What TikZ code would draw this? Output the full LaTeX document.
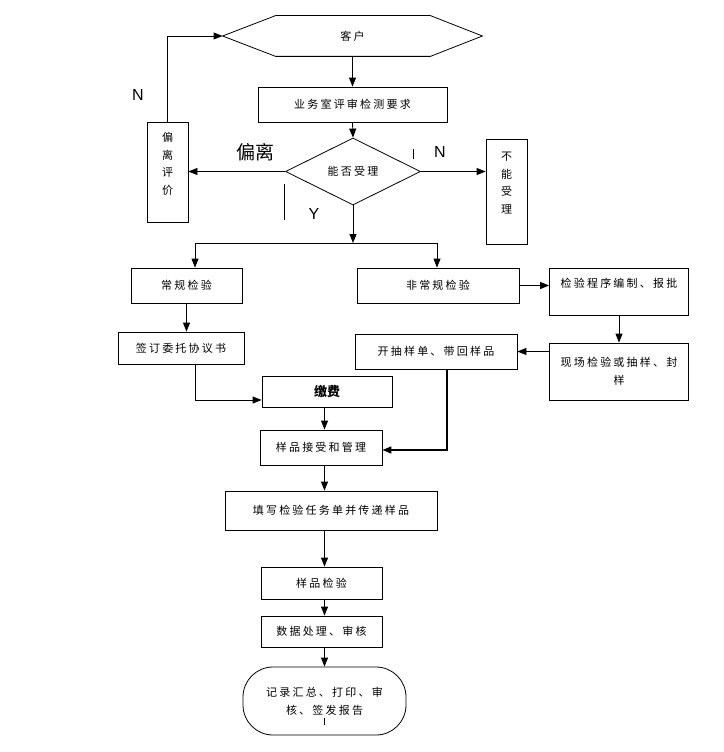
\documentclass[tikz,border=0pt]{standalone}
\usepackage{fontspec}
\setmainfont{Liberation Sans}
\newfontfamily\cjk[LetterSpace=20]{Noto Sans CJK SC}
\newfontfamily\cjkplain{Noto Sans CJK SC}
\usetikzlibrary{shapes.geometric,arrows.meta,calc}
\begin{document}
\begin{tikzpicture}[x=1pt,y=-1pt,
  box/.style={draw, line width=0.8pt, inner sep=0pt, align=center,
    font=\cjk\fontsize{11}{18}\selectfont},
  vbox/.style={box, font=\cjk\fontsize{11}{17.5}\selectfont},
  arr/.style={draw, line width=0.8pt, -{Triangle[length=9pt,width=7pt]}},
  ln/.style={draw, line width=0.8pt},
  lbl/.style={font=\fontsize{16}{16}\selectfont, inner sep=0pt}]
\useasboundingbox (0,0) rectangle (723,752);
\fill[white] (0,0) rectangle (723,752);

% nodes
\node[box, draw=none, minimum width=259pt, minimum height=40pt] (cust) at (352.5,36) {客户};
\draw[ln] (cust.west) -- ($(cust.north west)+(53,0)$) -- ($(cust.north east)+(-52,0)$)
  -- (cust.east) -- ($(cust.south east)+(-52,0)$) -- ($(cust.south west)+(53,0)$) -- cycle;
\node[box, minimum width=189pt, minimum height=35pt] (req) at (352.5,104.5) {业务室评审检测要求};
\node[box, diamond, aspect=2, minimum width=135pt, minimum height=67pt] (dia) at (353,171.5) {能否受理};
\node[vbox, minimum width=41pt, minimum height=100pt] (dev) at (167.5,172) {偏\\离\\评\\价\\~};
\node[vbox, minimum width=41pt, minimum height=105pt] (rej) at (506.5,191.5) {不\\能\\受\\理\\~};
\node[box, minimum width=111pt, minimum height=35pt] (reg) at (186.5,285.5) {常规检验};
\node[box, minimum width=162pt, minimum height=35pt] (nonreg) at (438,285.5) {非常规检验};
\node[box, minimum width=139pt, minimum height=47pt] (prog) at (619,291.5) {检验程序编制、报批\\~};
\node[box, minimum width=126pt, minimum height=32pt] (sign) at (181,348) {签订委托协议书};
\node[box, minimum width=130pt, minimum height=31pt, font=\cjkplain\bfseries\fontsize{13}{16}\selectfont] (pay) at (327,391.5) {缴费};
\node[box, minimum width=162pt, minimum height=35pt] (samp) at (436,351.5) {开抽样单、带回样品};
\node[box, minimum width=139pt, minimum height=57pt] (site) at (619,371.5) {现场检验或抽样、封\\样};
\node[box, minimum width=122pt, minimum height=35pt] (recv) at (321,447.5) {样品接受和管理};
\node[box, minimum width=212pt, minimum height=39pt] (task) at (331,510.5) {填写检验任务单并传递样品};
\node[box, minimum width=121pt, minimum height=32pt] (test) at (321.5,583) {样品检验};
\node[box, minimum width=121pt, minimum height=31pt] (data) at (321.5,631.5) {数据处理、审核};
\node[box, rounded corners=30pt, minimum width=163pt, minimum height=68pt] (rep) at (324.5,701) {记录汇总、打印、审\\核、签发报告};

% labels
\node[lbl] (n1) at (138,95) {N};
\node[lbl] (n2) at (440,152) {N};
\node[lbl] (y1) at (314,214) {Y};
\node[inner sep=0pt, font=\cjkplain\fontsize{19}{19}\selectfont] (devlbl) at (255,152) {偏离};

% connectors
\draw[arr] (cust.south) -- (req.north);
\draw[arr] (req.south) -- (dia.north);
\draw[arr] (dia.west) -- (dia.west -| dev.east);
\draw[arr] (dia.east) -- (dia.east -| rej.west);
\draw[arr] (dev.north) -- (dev.north |- cust.west) -- (cust.west);
\coordinate (split) at (353,243);
\coordinate (sl) at (195,243);
\coordinate (sr) at (437,243);
\draw[arr] (dia.south) -- (split);
\draw[ln] (sl) -- (sr);
\draw[arr] (sl) -- (sl |- reg.north);
\draw[arr] (sr) -- (sr |- nonreg.north);
\draw[arr] (nonreg.east) -- (nonreg.east -| prog.west);
\draw[arr] (reg.south) -- (reg.south |- sign.north);
\coordinate (sb) at (195,400);
\draw[arr] (sign.south -| sb) -- (sb) -- (sb -| pay.west);
\draw[arr] (prog.south) -- (prog.south |- site.north);
\draw[arr] (site.west |- samp.east) -- (samp.east);
\coordinate (sc) at (447,450);
\draw[arr, line width=1.5pt] (samp.south -| sc) -- (sc) -- (sc -| recv.east);
\coordinate (cx) at (324.5,0);
\draw[arr] (pay.south -| cx) -- (recv.north -| cx);
\draw[arr] (recv.south -| cx) -- (task.north -| cx);
\draw[arr] (task.south -| cx) -- (test.north -| cx);
\draw[arr] (test.south -| cx) -- (data.north -| cx);
\draw[arr] (data.south -| cx) -- (rep.north -| cx);

% stray marks
\draw[line width=0.7pt] (413,149) -- (413,159);
\draw[line width=0.7pt] (284,184) -- (284,220);
\draw[line width=0.7pt] (324,718) -- (324,725);
\end{tikzpicture}
\end{document}
